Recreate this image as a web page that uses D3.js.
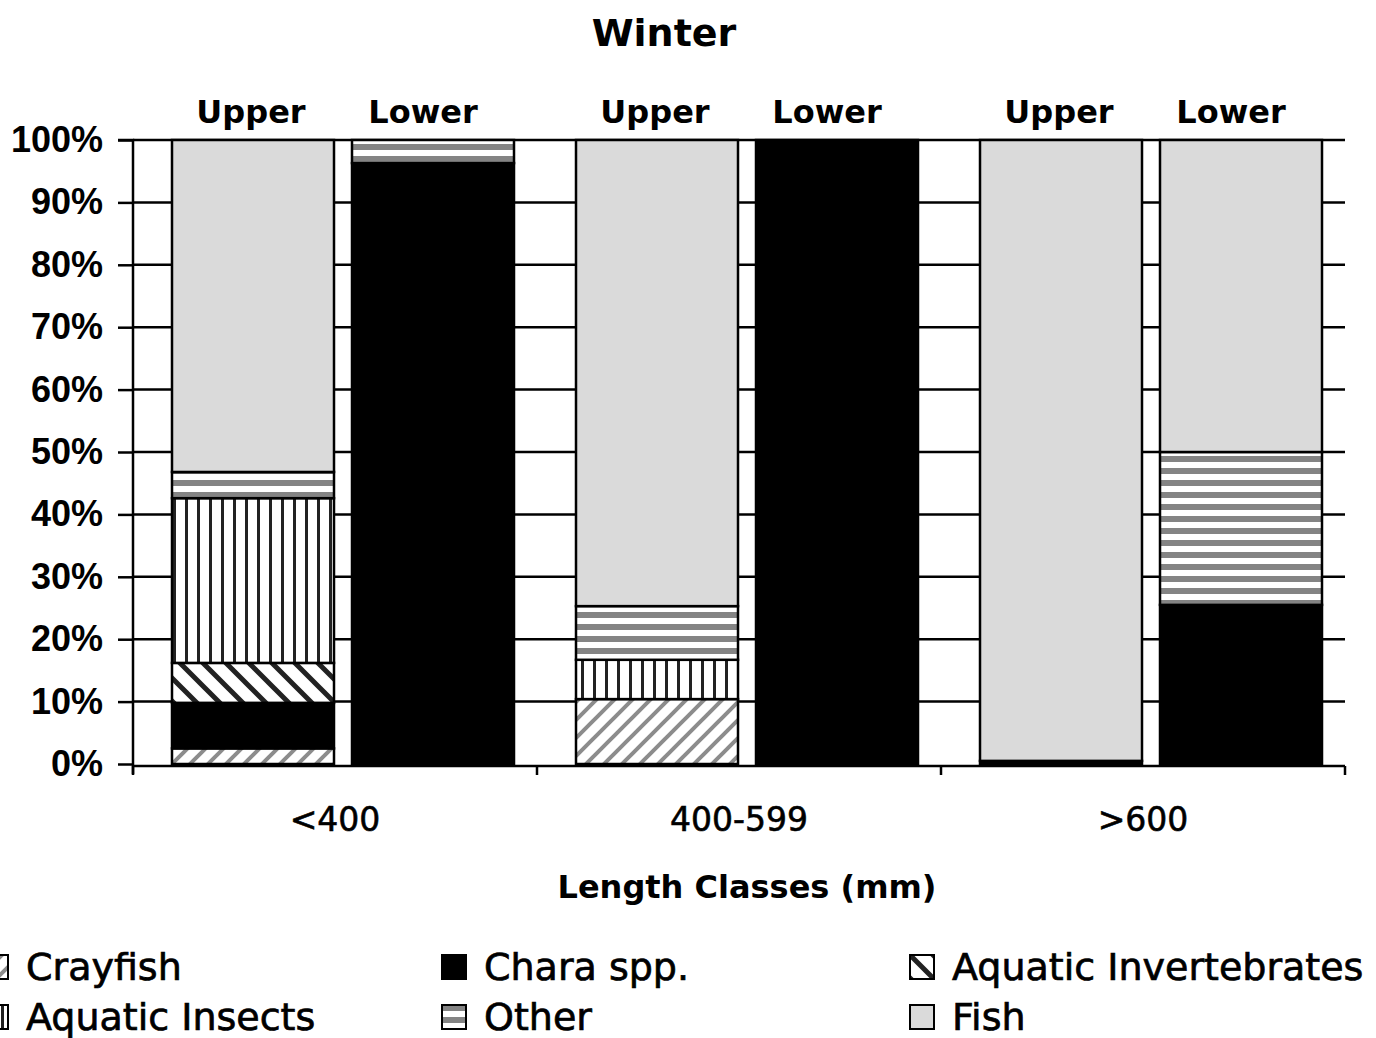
<!DOCTYPE html>
<html>
<head>
<meta charset="utf-8">
<script src="https://cdn.jsdelivr.net/npm/d3@7"></script>
<style>
  body { margin: 0; background: #fff; }
  svg { display: block; }
</style>
</head>
<body>
<div id="chart"></div>
<script>
// Data (percent of diet, stacked from bottom)
const categories = ['<400', '400-599', '>600'];
const sites = ['Upper', 'Lower'];
const seriesNames = ['Crayfish', 'Chara spp.', 'Aquatic Invertebrates', 'Aquatic Insects', 'Other', 'Fish'];
// order of each array: <400 Upper, <400 Lower, 400-599 Upper, 400-599 Lower, >600 Upper, >600 Lower
const crayfish = [2.5, 0, 10.4, 0, 0, 0];
const chara = [7.3, 96.3, 0, 100, 0.5, 25.5];
const invertebrates = [6.4, 0, 0, 0, 0, 0];
const insects = [26.4, 0, 6.3, 0, 0, 0];
const other = [4.2, 3.7, 8.6, 0, 0, 24.5];
const fish = [53.2, 0, 74.7, 0, 99.5, 50];
const yTicks = [0, 10, 20, 30, 40, 50, 60, 70, 80, 90, 100];

const seriesValues = [crayfish, chara, invertebrates, insects, other, fish];

// build rows for d3.stack
const rows = [];
categories.forEach((c, ci) => {
  sites.forEach((s, si) => {
    const row = { category: c, site: s };
    seriesNames.forEach((name, k) => {
      row[name] = seriesValues[k][ci * 2 + si];
    });
    rows.push(row);
  });
});

const width = 1376;
const height = 1038;
const plotLeft = 133;
const plotRight = 1345;

const svg = d3
  .select('#chart')
  .append('svg')
  .attr('width', width)
  .attr('height', height);

// Patterns
const defs = svg.append('defs');

const pCray = defs.append('pattern')
  .attr('id', 'p-cray').attr('patternUnits', 'userSpaceOnUse')
  .attr('width', 18).attr('height', 18);
pCray.append('rect').attr('width', 18).attr('height', 18).attr('fill', '#fff');
pCray.append('path').attr('d', 'M-4,22 L22,-4 M-13,13 L13,-13 M5,31 L31,5')
  .attr('stroke', '#8c8c8c').attr('stroke-width', 4);

const pInv = defs.append('pattern')
  .attr('id', 'p-inv').attr('patternUnits', 'userSpaceOnUse')
  .attr('width', 23).attr('height', 23);
pInv.append('rect').attr('width', 23).attr('height', 23).attr('fill', '#fff');
pInv.append('path').attr('d', 'M-4,-4 L27,27 M-27,-4 L4,27 M19,-4 L50,27 M-4,19 L4,27 M19,-4 L27,4')
  .attr('stroke', '#222').attr('stroke-width', 5);

const pIns = defs.append('pattern')
  .attr('id', 'p-ins').attr('patternUnits', 'userSpaceOnUse')
  .attr('width', 12).attr('height', 12);
pIns.append('rect').attr('width', 12).attr('height', 12).attr('fill', '#fff');
pIns.append('rect').attr('x', 5).attr('width', 3).attr('height', 12).attr('fill', '#222');

const pOther = defs.append('pattern')
  .attr('id', 'p-other').attr('patternUnits', 'userSpaceOnUse')
  .attr('width', 12).attr('height', 12);
pOther.append('rect').attr('width', 12).attr('height', 12).attr('fill', '#fff');
pOther.append('rect').attr('y', 0).attr('width', 12).attr('height', 6).attr('fill', '#848484');

const fills = {
  'Crayfish': 'url(#p-cray)',
  'Chara spp.': '#000',
  'Aquatic Invertebrates': 'url(#p-inv)',
  'Aquatic Insects': 'url(#p-ins)',
  'Other': 'url(#p-other)',
  'Fish': '#dadada',
};

// Scales
const xGroup = d3.scaleBand().domain(categories).range([plotLeft, plotRight]).padding(0);
const xSite = d3.scaleBand().domain(sites).range([39, 381]).paddingInner(0.1);
const y = d3.scaleLinear().domain([0, 100]).range([764, 140]);

// Gridlines
svg.append('g')
  .selectAll('line')
  .data(yTicks.filter((d) => d > 0))
  .enter()
  .append('line')
  .attr('x1', plotLeft)
  .attr('x2', plotRight)
  .attr('y1', (d) => y(d))
  .attr('y2', (d) => y(d))
  .attr('stroke', '#000')
  .attr('stroke-width', 2.5);

// Bars
const stack = d3.stack().keys(seriesNames);
const layers = stack(rows);

svg.append('g')
  .selectAll('g')
  .data(layers)
  .enter()
  .append('g')
  .attr('fill', (d) => fills[d.key])
  .selectAll('rect')
  .data((d) => d.filter((p) => p[1] - p[0] > 0))
  .enter()
  .append('rect')
  .attr('x', (d) => xGroup(d.data.category) + xSite(d.data.site))
  .attr('y', (d) => y(d[1]))
  .attr('width', xSite.bandwidth())
  .attr('height', (d) => y(d[0]) - y(d[1]))
  .attr('stroke', '#000')
  .attr('stroke-width', 2.5);

// Y axis
const yAxis = svg.append('g')
  .attr('transform', `translate(${plotLeft},0)`)
  .call(
    d3.axisLeft(y)
      .tickValues(yTicks)
      .tickSize(15)
      .tickPadding(15)
      .tickFormat((d) => d + '%')
  );
yAxis.selectAll('line, path').attr('stroke', '#000').attr('stroke-width', 2.5);
yAxis.select('.domain').attr('d', `M-15,${y(100)}H0V${y(0) + 10}`);
yAxis.selectAll('text')
  .attr('fill', '#000')
  .style('font-family', '"Liberation Sans", Arial, sans-serif')
  .style('font-weight', 'bold')
  .style('font-size', '36px');

// X axis
const xAxis = svg.append('g')
  .attr('transform', `translate(0,${y(0) + 2})`)
  .call(
    d3.axisBottom(xGroup)
      .tickSize(0)
      .tickPadding(42)
  );
xAxis.select('.domain').attr('stroke', '#000').attr('stroke-width', 2.5)
  .attr('d', `M${plotLeft},0H${plotRight}`);
xAxis.selectAll('text')
  .attr('fill', '#000')
  .attr('stroke', '#000')
  .attr('stroke-width', 0.6)
  .style('font-family', '"DejaVu Sans", sans-serif')
  .style('font-size', '33px');

// group boundary ticks
const boundaries = categories.map((c) => xGroup(c)).concat([plotRight]);
svg.append('g')
  .selectAll('line')
  .data(boundaries)
  .enter()
  .append('line')
  .attr('x1', (d) => d)
  .attr('x2', (d) => d)
  .attr('y1', y(0) + 2)
  .attr('y2', y(0) + 11)
  .attr('stroke', '#000')
  .attr('stroke-width', 2.5);

// Site labels above bars (Lower labels sit a little left of bar centre)
svg.append('g')
  .selectAll('text')
  .data(rows)
  .enter()
  .append('text')
  .attr('x', (d) => xGroup(d.category) + xSite(d.site) + xSite.bandwidth() / 2)
  .attr('dx', (d) => (d.site === 'Lower' ? -10 : -2))
  .attr('y', 123)
  .attr('text-anchor', 'middle')
  .style('font-family', '"DejaVu Sans", sans-serif')
  .style('font-weight', 'bold')
  .style('font-size', '32px')
  .text((d) => d.site);

// Title
svg.append('text')
  .attr('x', 664)
  .attr('y', 46)
  .attr('text-anchor', 'middle')
  .style('font-family', '"DejaVu Sans", sans-serif')
  .style('font-weight', 'bold')
  .style('font-size', '38px')
  .text('Winter');

// Axis title
svg.append('text')
  .attr('x', 747)
  .attr('y', 898)
  .attr('text-anchor', 'middle')
  .style('font-family', '"DejaVu Sans", sans-serif')
  .style('font-weight', 'bold')
  .style('font-size', '32px')
  .text('Length Classes (mm)');

// Legend
const legendCols = [-16, 442, 910];
const legendRows = [955, 1005];
const legend = svg.append('g')
  .selectAll('g')
  .data(seriesNames)
  .enter()
  .append('g')
  .attr('transform', (d, i) => `translate(${legendCols[i % 3]},${legendRows[Math.floor(i / 3)]})`);

legend.append('rect')
  .attr('width', 24)
  .attr('height', 24)
  .attr('fill', (d) => fills[d])
  .attr('stroke', '#000')
  .attr('stroke-width', 2);

legend.append('text')
  .attr('x', 42)
  .attr('y', 25)
  .attr('stroke', '#000')
  .attr('stroke-width', 0.7)
  .style('font-family', '"DejaVu Sans", sans-serif')
  .style('font-size', '38px')
  .text((d) => d);
</script>
</body>
</html>
